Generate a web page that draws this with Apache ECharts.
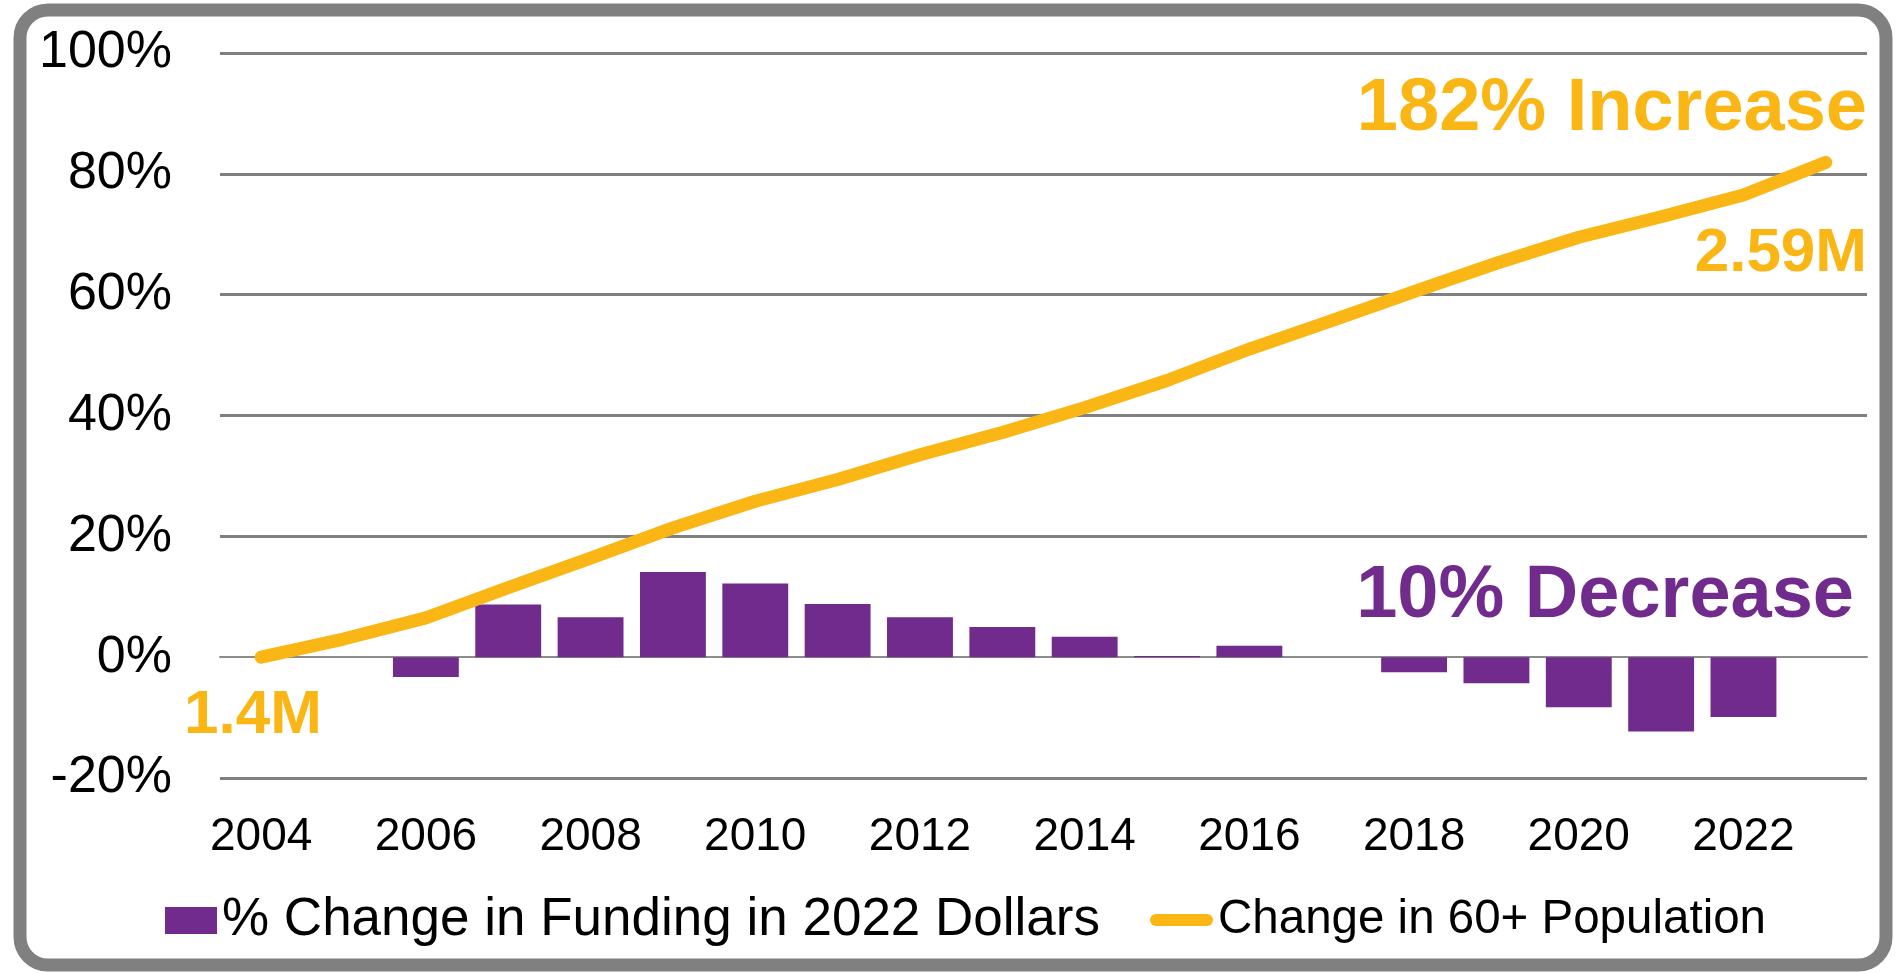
<!DOCTYPE html>
<html>
<head>
<meta charset="utf-8">
<script src="https://cdn.jsdelivr.net/npm/echarts@6/dist/echarts.min.js"></script>
<style>
  html, body { margin: 0; padding: 0; background: #fff; }
  #chart { width: 1903px; height: 973px; }
</style>
</head>
<body>
<div id="chart"></div>
<script>
// ---- data ----
const years = ['2004','2005','2006','2007','2008','2009','2010','2011','2012','2013',
               '2014','2015','2016','2017','2018','2019','2020','2021','2022','2023'];
const fundingChange = [0, 0, -3.3, 8.7, 6.6, 14.1, 12.2, 8.8, 6.6, 5.0,
                       3.4, 0.2, 1.9, 0, -2.5, -4.3, -8.3, -12.3, -9.9, 0];
const populationChange = [0, 3.0, 6.5, 11.5, 16.4, 21.4, 25.8, 29.4, 33.5, 37.2,
                          41.3, 45.8, 51.0, 55.7, 60.5, 65.2, 69.5, 72.9, 76.5, 81.9];
const seriesNames = ['% Change in Funding in 2022 Dollars', 'Change in 60+ Population'];
const annotations = ['182% Increase', '2.59M', '1.4M', '10% Decrease'];

const PURPLE = '#712B8D';
const GOLD = '#F9B614';
const GRID = '#808080';
const FONT = '"Liberation Sans", Arial, sans-serif';

const chart = echarts.init(document.getElementById('chart'), null, { renderer: 'canvas' });

chart.setOption({
  animation: false,
  backgroundColor: '#ffffff',
  textStyle: { fontFamily: FONT },
  grid: { left: 220, right: 36, top: 53, bottom: 195, containLabel: false },
  xAxis: {
    type: 'category',
    data: years,
    boundaryGap: true,
    axisTick: { show: false },
    axisLine: { onZero: true, lineStyle: { color: '#8c8c8c', width: 2 } },
    axisLabel: { interval: 1, fontSize: 46, color: '#000', margin: 36, fontFamily: FONT }
  },
  yAxis: {
    type: 'value',
    min: -20, max: 100, interval: 20,
    axisLine: { show: false },
    axisTick: { show: false },
    axisLabel: { formatter: '{value}%', fontSize: 52, color: '#000', margin: 48, fontFamily: FONT },
    splitLine: { show: true, lineStyle: { color: [GRID, 'rgba(0,0,0,0)', GRID, GRID, GRID, GRID, GRID], width: 3 } }
  },
  legend: [
    {
      data: [{ name: seriesNames[0] }],
      left: 165, top: 894, padding: 0,
      itemWidth: 52, itemHeight: 27, icon: 'rect',
      selectedMode: false,
      textStyle: { fontSize: 53, color: '#000', fontFamily: FONT }
    },
    {
      data: [{ name: seriesNames[1] }],
      left: 1150, top: 896, padding: 0,
      itemWidth: 63, itemHeight: 13,
      icon: 'path://M6,0 H57 A6,6 0 0 1 57,12 H6 A6,6 0 0 1 6,0 Z',
      selectedMode: false,
      textStyle: { fontSize: 47.5, color: '#000', fontFamily: FONT }
    }
  ],
  series: [
    {
      name: seriesNames[0],
      type: 'bar',
      data: fundingChange,
      barCategoryGap: '20%',
      itemStyle: { color: PURPLE },
      z: 2
    },
    {
      name: seriesNames[1],
      type: 'line',
      data: populationChange,
      symbol: 'none',
      lineStyle: { color: GOLD, width: 13, cap: 'round', join: 'round' },
      itemStyle: { color: GOLD },
      z: 3
    }
  ],
  graphic: [
    {
      type: 'rect', z: 0,
      shape: { x: 20, y: 10, width: 1866, height: 955, r: 28 },
      style: { fill: 'none', stroke: GRID, lineWidth: 13 }
    },
    {
      type: 'text', z: 10, x: 1867, y: 110,
      style: { text: annotations[0], fill: GOLD, fontSize: 74, fontWeight: 'bold', fontFamily: FONT, align: 'right', verticalAlign: 'middle' }
    },
    {
      type: 'text', z: 10, x: 1867, y: 254,
      style: { text: annotations[1], fill: GOLD, fontSize: 62, fontWeight: 'bold', fontFamily: FONT, align: 'right', verticalAlign: 'middle' }
    },
    {
      type: 'text', z: 10, x: 184, y: 716,
      style: { text: annotations[2], fill: GOLD, fontSize: 62, fontWeight: 'bold', fontFamily: FONT, align: 'left', verticalAlign: 'middle' }
    },
    {
      type: 'text', z: 10, x: 1854, y: 597,
      style: { text: annotations[3], fill: PURPLE, fontSize: 74, fontWeight: 'bold', fontFamily: FONT, align: 'right', verticalAlign: 'middle' }
    }
  ]
});
</script>
</body>
</html>
